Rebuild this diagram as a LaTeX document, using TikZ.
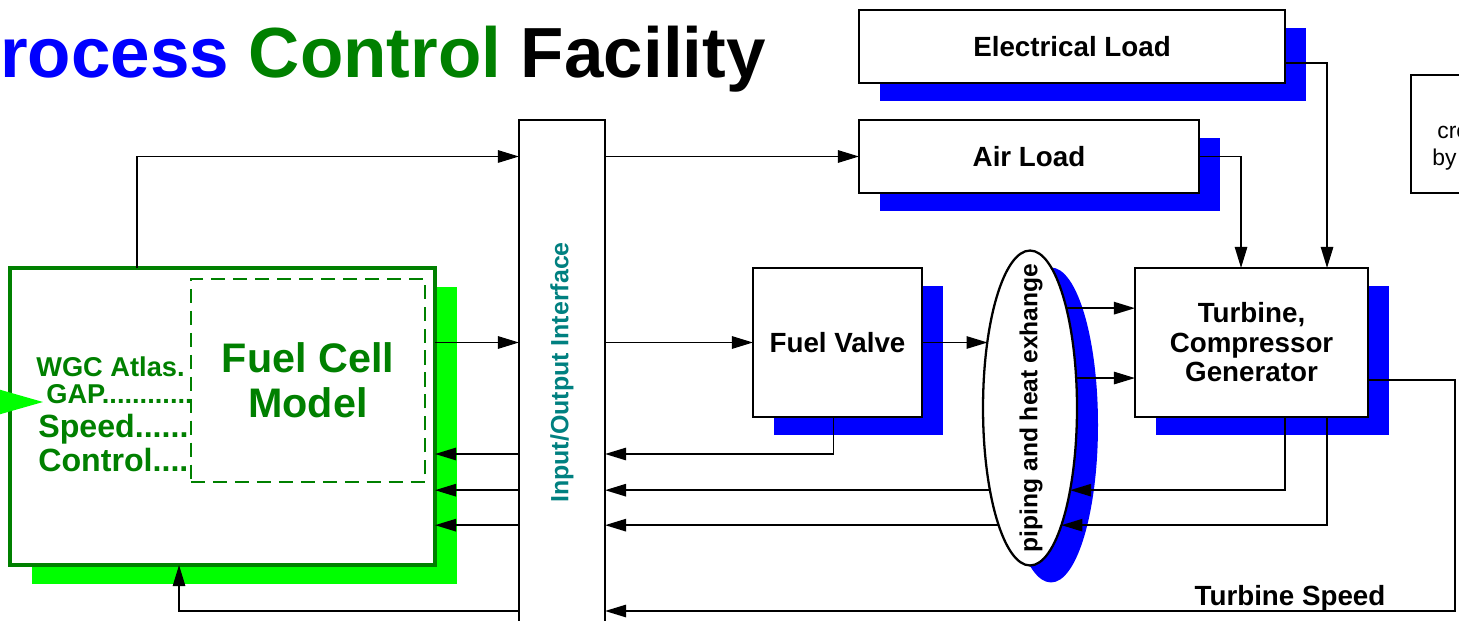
\documentclass[tikz,border=0pt]{standalone}
\usepackage{fontspec}
\setmainfont{Liberation Sans}
\usepackage{tikz}
\usetikzlibrary{positioning,shapes.geometric,arrows.meta,shadows,calc}
\definecolor{fcgreen}{RGB}{0,128,0}
\definecolor{shadegreen}{RGB}{0,255,0}
\definecolor{shadeblue}{RGB}{0,0,255}
\definecolor{ioteal}{RGB}{0,128,128}
\tikzset{
  blockbox/.style={draw, line width=1.3pt, fill=white, inner sep=0pt, outer sep=0pt,
                   align=center, font=\fontsize{15.8}{16.8}\selectfont\bfseries,
                   general shadow={fill=shadeblue, shadow xshift=0.42cm, shadow yshift=-0.36cm}},
  fcbox/.style={draw=fcgreen, line width=2pt, fill=white, inner sep=0pt, outer sep=0pt,
                general shadow={fill=shadegreen, shadow xshift=0.44cm, shadow yshift=-0.38cm}},
  dashbox/.style={draw=fcgreen, line width=1.1pt, dash pattern=on 8pt off 4.5pt, inner sep=0pt,
                  outer sep=0pt, align=center, text=fcgreen,
                  font=\fontsize{23.5}{25.5}\selectfont\bfseries},
  iobox/.style={draw, line width=1.3pt, fill=white, inner sep=0pt, outer sep=0pt,
                text=ioteal, font=\fontsize{14.2}{16}\selectfont\bfseries},
  pipebox/.style={ellipse, draw, line width=1.3pt, fill=white, inner sep=0pt, outer sep=0pt,
                  general shadow={fill=shadeblue, shadow xshift=0.42cm, shadow yshift=-0.34cm}},
  notebox/.style={draw, line width=1.3pt, fill=white, inner sep=0pt, outer sep=0pt},
  fclabel/.style={anchor=base west, inner sep=0pt, text=fcgreen, font=\bfseries},
  conn/.style={-{Triangle[length=12pt,width=7pt]}, line width=1.1pt},
  gaparrow/.style={-{Triangle[length=25pt,width=14pt]}, line width=1pt, shadegreen}
}

\begin{document}
\begin{tikzpicture}[x=0.02cm,y=-0.02cm]
  \useasboundingbox (0,0) rectangle (1459,621);
  \clip (0,0) rectangle (1459,621);

  %% Title
  \node[anchor=base west, inner sep=0pt, font=\fontsize{40.4}{44}\selectfont\bfseries] (title) at (0,78)
       {\textcolor{shadeblue}{rocess} \textcolor{fcgreen}{Control} Facility};

  %% Loads
  \node[blockbox, minimum width=8.52cm, minimum height=1.46cm] (elec) at (1072,46.5) {Electrical Load};
  \node[blockbox, minimum width=6.8cm, minimum height=1.46cm] (air) at (1029,156.5) {Air Load};

  % partly hidden box on the right
  \node[notebox, minimum width=2.38cm, minimum height=2.36cm] (note) at (1470.5,134) {};
  \node[anchor=base west, inner sep=0pt, font=\fontsize{13}{15}\selectfont] (notecre) at (1437,139) {cre};
  \node[anchor=base west, inner sep=0pt, font=\fontsize{13}{15}\selectfont] (noteby) at (1432,166) {by};

  %% Fuel cell side
  \node[fcbox, minimum width=8.5cm, minimum height=5.94cm] (fc) at (222.5,416.5) {};
  \node[dashbox, minimum width=4.68cm, minimum height=4.06cm] (fcm) at (308,380.5) {Fuel Cell\\Model};
  \node[fclabel, font=\fontsize{15.5}{17}\selectfont\bfseries] (wgc) at (36,376) {WGC Atlas.};
  \node[fclabel, font=\fontsize{15.5}{17}\selectfont\bfseries] (gap) at (46,403) {GAP............};
  \node[fclabel, font=\fontsize{18.3}{20}\selectfont\bfseries] (speed) at (38,437) {Speed......};
  \node[fclabel, font=\fontsize{18.3}{20}\selectfont\bfseries] (ctrl) at (38,471) {Control....};

  %% Interface
  \node[iobox, minimum width=1.72cm, minimum height=10.1cm] (io) at (562,372.5)
       {\rotatebox{90}{Input/Output Interface}};

  %% Plant
  \node[blockbox, minimum width=3.38cm, minimum height=2.98cm] (valve) at (837.5,342.5) {Fuel Valve};
  \node[pipebox, minimum width=1.88cm, minimum height=6.3cm] (pipe) at (1030,408) {};
  \node[rotate=90, font=\fontsize{14}{16}\selectfont\bfseries] (pipetext) at (1031,408) {piping and heat exhange};
  \node[blockbox, minimum width=4.66cm, minimum height=2.98cm] (tcg) at (1251.5,342.5)
       {Turbine,\\Compressor\\Generator};

  % levels of the return lines
  \coordinate (ret1) at (0,454);
  \coordinate (ret4) at (0,611);
  \coordinate (gapin) at (-30,402);
  \coordinate (gaptip) at (43,402);

  %% Connectors
  \draw[gaparrow] (gapin) -- (gaptip);
  \draw[conn] ($(fc.north west)+(127,0)$) |- (io.west |- air.west);
  \draw[conn] (io.east |- air.west) -- (air.west);
  \draw[conn] (fc.east |- valve.west) -- (io.west |- valve.west);
  \draw[conn] (io.east |- valve.west) -- (valve.west);
  \draw[conn] (valve.east) -- (pipe.122.9 |- valve.east);
  \draw[conn] (pipe.70.95) -- (pipe.70.95 -| tcg.west);
  \draw[conn] (pipe.33.03) -- (pipe.33.03 -| tcg.west);
  \draw[conn] ($(elec.south east)+(0,-20)$) -| ($(tcg.north west)+(192,0)$);
  \draw[conn] (air.east) -| ($(tcg.north west)+(106,0)$);

  % returns to the fuel cell
  \draw[conn] ($(valve.south)+(-4,0)$) |- (io.east |- ret1);
  \draw[conn] (io.west |- ret1) -- (fc.east |- ret1);
  \draw[conn] ($(tcg.south west)+(150,0)$) |- (pipe.-64.3);
  \draw[conn] (pipe.244.3) -- (pipe.244.3 -| io.east);
  \draw[conn] (io.west |- pipe.244.3) -- (fc.east |- pipe.244.3);
  \draw[conn] ($(tcg.south west)+(192,0)$) |- (pipe.-75.5);
  \draw[conn] (pipe.255.5) -- (pipe.255.5 -| io.east);
  \draw[conn] (io.west |- pipe.255.5) -- (fc.east |- pipe.255.5);
  \draw[conn] ($(tcg.east)+(0,37.5)$) -- ++(87,0) |- (io.east |- ret4);
  \draw[conn] (io.west |- ret4) -| ($(fc.south west)+(169,0)$);
  \node[anchor=base, font=\fontsize{15.8}{17}\selectfont\bfseries] (tspeed) at (1290,605) {Turbine Speed};
\end{tikzpicture}
\end{document}
